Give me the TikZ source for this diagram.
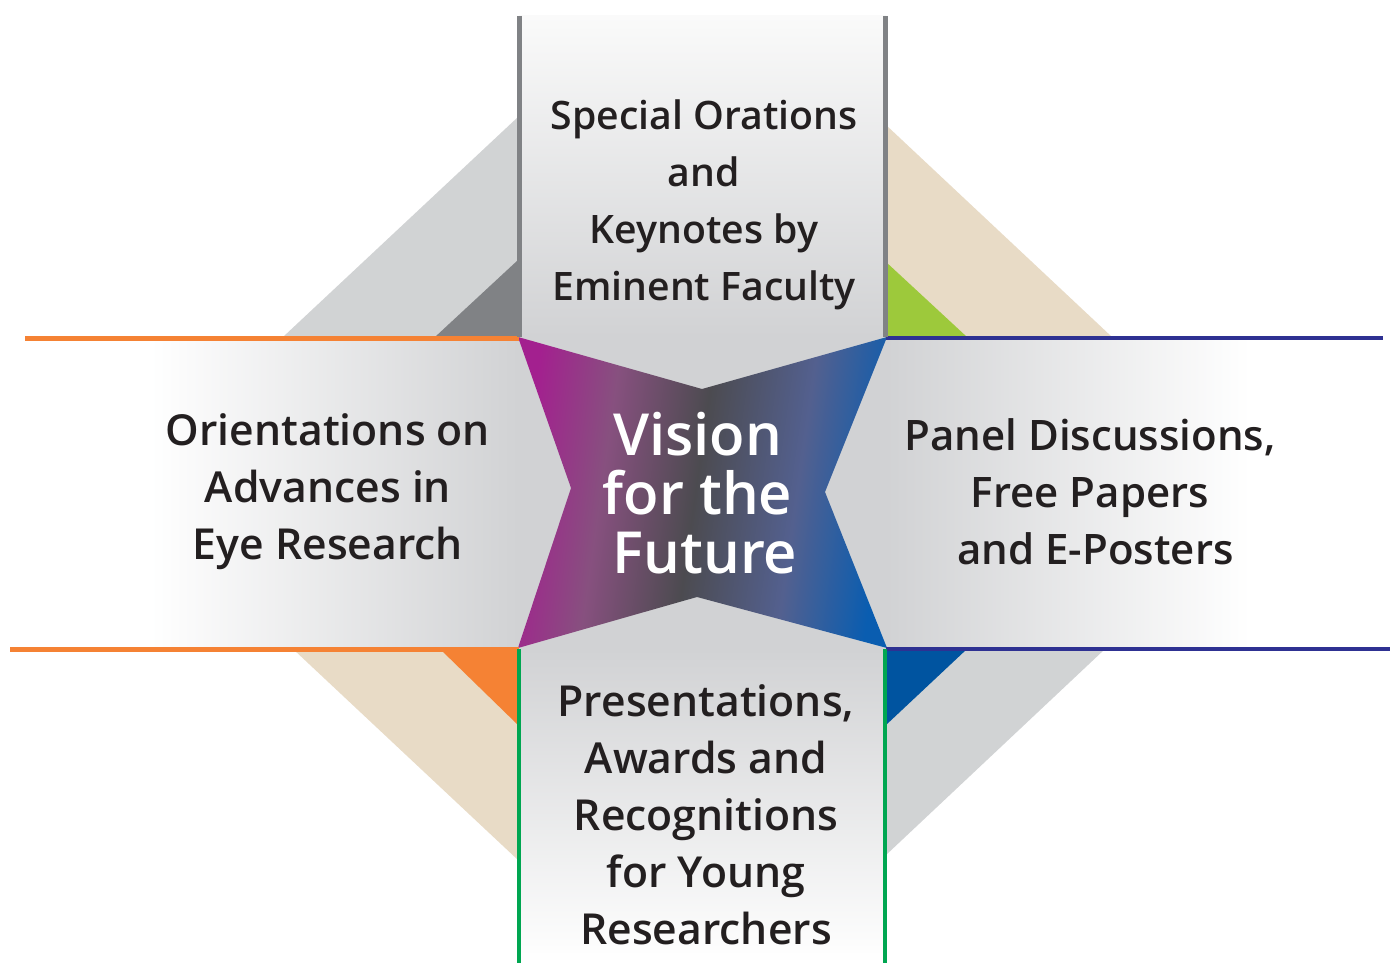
\documentclass[tikz,border=0pt]{standalone}
\usepackage{fontspec}
\IfFontExistsTF{Open Sans SemiBold}{\newfontfamily\osb{Open Sans SemiBold}}{%
  \IfFontExistsTF{Open Sans Semibold}{\newfontfamily\osb{Open Sans Semibold}}{%
    \newfontfamily\osb{Open Sans}[FakeBold=1.5]}}
\definecolor{pgray}{HTML}{D1D2D4}
\definecolor{ptop}{HTML}{FAFAFA}
\definecolor{ltgray}{HTML}{D1D3D4}
\definecolor{dkgray}{HTML}{808285}
\definecolor{beige}{HTML}{E8DBC6}
\definecolor{lgreen}{HTML}{9DC93B}
\definecolor{orng}{HTML}{F58234}
\definecolor{dblue}{HTML}{0054A0}
\definecolor{navy}{HTML}{2E3192}
\definecolor{grn}{HTML}{00A651}
\definecolor{txtc}{HTML}{231F20}
\definecolor{smag}{HTML}{A3208F}
\definecolor{smauve}{HTML}{87507F}
\definecolor{sdark}{HTML}{4C4B50}
\definecolor{sslate}{HTML}{53608F}
\definecolor{sblue}{HTML}{0A5DB0}
\pgfdeclarehorizontalshading{starshade}{100bp}{color(0bp)=(smag); color(25bp)=(smag); color(36bp)=(smauve); color(49bp)=(sdark); color(63bp)=(sslate); color(75bp)=(sblue); color(100bp)=(sblue)}
\tikzset{
  txt/.style={font=\osb\fontsize{42.7}{57}\selectfont, align=center, inner sep=0pt, text=txtc},
  toptxt/.style={txt, font=\osb\fontsize{39.2}{57}\selectfont},
  righttxt/.style={txt, font=\osb\fontsize{42}{57}\selectfont},
  ctxt/.style={font=\osb\fontsize{58}{59}\selectfont, align=center, inner sep=0pt, text=white},
  gline/.style={draw=dkgray, line width=5pt},
  oline/.style={draw=orng, line width=5pt},
  nline/.style={draw=navy, line width=4pt},
  grline/.style={draw=grn, line width=4pt},
}
\begin{document}
\begin{tikzpicture}[x=1pt,y=-1pt]
\useasboundingbox (0,0) rectangle (1390,963);
\fill[white] (0,0) rectangle (1390,963);
% corner triangles
\fill[ltgray] (518,117) -- (283,337) -- (518,337) -- cycle;
\fill[dkgray] (518,260) -- (435,337) -- (518,337) -- cycle;
\fill[beige] (886,125) -- (1112,337) -- (886,337) -- cycle;
\fill[lgreen] (886,262) -- (967,337) -- (886,337) -- cycle;
\fill[beige] (293,649) -- (518,860) -- (518,649) -- cycle;
\fill[orng] (440,649) -- (518,725) -- (518,649) -- cycle;
\fill[ltgray] (1105,649) -- (886,855) -- (886,649) -- cycle;
\fill[dblue] (967,649) -- (886,725) -- (886,649) -- cycle;
% panels
\shade[top color=ptop, bottom color=pgray] (519,16) rectangle (886,337);
\shade[top color=pgray, bottom color=white] (519,649) rectangle (886,963);
\shade[left color=white, right color=pgray] (150,338) rectangle (519,649);
\shade[left color=pgray, right color=white] (886,338) rectangle (1250,649);
\fill[pgray] (518,337) rectangle (886,649);
% star
\shade[shading=starshade, shading angle=-8] (518,337) -- (702,389) -- (887,337) -- (825,492) -- (887,648) -- (697,597) -- (518,648) -- (571,488) -- cycle;
% lines
\coordinate (tl1) at (519,16); \coordinate (tl2) at (519,337);
\coordinate (tr1) at (885,16); \coordinate (tr2) at (885,337);
\coordinate (lt1) at (25,338.3); \coordinate (lt2) at (519,338.3);
\coordinate (lb1) at (10,649); \coordinate (lb2) at (519,649);
\coordinate (rt1) at (886,337.5); \coordinate (rt2) at (1383,337.5);
\coordinate (rb1) at (886,649); \coordinate (rb2) at (1390,649);
\coordinate (bl1) at (518.5,649); \coordinate (bl2) at (518.5,963);
\coordinate (br1) at (885,649); \coordinate (br2) at (885,963);
\draw[oline] (lt1) -- (lt2);
\draw[oline] (lb1) -- (lb2);
\draw[nline] (rt1) -- (rt2);
\draw[nline] (rb1) -- (rb2);
\draw[gline] (tl1) -- (tl2);
\draw[gline] (tr1) -- (tr2);
\draw[grline] (bl1) -- (bl2);
\draw[grline] (br1) -- (br2);
% texts
\node[toptxt] (top) at (704,205) {Special Orations\\and\\Keynotes by\\Eminent Faculty};
\node[txt] (left) at (328,492) {Orientations on\\Advances in\\Eye Research};
\node[righttxt] (right) at (1090,492) {Panel Discussions,\\Free Papers\\\hspace*{11pt}and E-Posters};
\node[txt] (bottom) at (706,815) {Presentations,\\Awards and\\Recognitions\\for Young\\Researchers};
\node[ctxt] (center) at (697.5,493.5) {Vision\\for the\\\hspace*{15pt}Future};
\end{tikzpicture}
\end{document}
